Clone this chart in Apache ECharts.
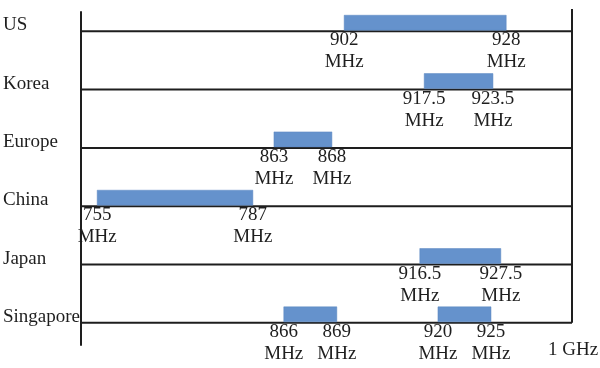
<!DOCTYPE html>
<html>
<head>
<meta charset="utf-8">
<script src="https://cdn.jsdelivr.net/npm/echarts@6/dist/echarts.min.js"></script>
<style>html,body{margin:0;padding:0;background:#fff}#c{width:600px;height:368px}</style>
</head>
<body>
<div id="c"></div>
<script>
// Regions (one row each, top to bottom)
const regions = ['US', 'Korea', 'Europe', 'China', 'Japan', 'Singapore'];
// Frequency bands: row index, start/end frequency (MHz) as labelled
const bandRegion   = [0, 1, 2, 3, 4, 5, 5];
const bandStartMHz = [902, 917.5, 863, 755, 916.5, 866, 920];
const bandEndMHz   = [928, 923.5, 868, 787, 927.5, 869, 925];
// The original diagram is not to scale: band extents read on a schematic 0-100 axis
const bandStartPos = [53.6, 69.9, 39.3, 3.3, 69.0, 41.3, 72.7];
const bandEndPos   = [86.6, 83.9, 51.1, 35.0, 85.5, 52.1, 83.5];
const unitLabel = 'MHz';
const axisEndLabel = '1 GHz';

const FONT = 'Liberation Serif';
const INK = '#1e1e1e';
const BAR = '#6592cc';

const chart = echarts.init(document.getElementById('c'), null, {renderer: 'canvas'});

function txt(x, y, s, align) {
  return {type: 'text', style: {x: x, y: y, text: s, fontFamily: FONT, fontSize: 19,
    fill: INK, align: align || 'center', verticalAlign: 'middle'}};
}

chart.setOption({
  animation: false,
  backgroundColor: '#fff',
  grid: {left: 81, right: 28, top: 12, bottom: 23},
  xAxis: {type: 'value', min: 0, max: 100, show: false},
  yAxis: {type: 'value', inverse: true, min: -0.33, max: 5.38,
    axisLine: {show: true, lineStyle: {color: INK, width: 2}},
    axisTick: {show: false}, axisLabel: {show: false}, splitLine: {show: false}},
  series: [
    {
      type: 'custom', name: 'rows', clip: false,
      data: regions.map((r, i) => [i]),
      renderItem: function (params, api) {
        const i = api.value(0);
        const a = api.coord([0, i]);
        const b = api.coord([100, i]);
        return {type: 'group', children: [
          {type: 'line', shape: {x1: a[0], y1: a[1], x2: b[0], y2: b[1]},
            style: {stroke: INK, lineWidth: 2}},
          txt(a[0] - 78, a[1] - 6, regions[i], 'left')
        ]};
      }
    },
    {
      type: 'custom', name: 'frame', clip: false,
      data: [[100]],
      renderItem: function (params, api) {
        const t = api.coord([100, -0.38]);
        const b = api.coord([100, regions.length - 1]);
        const g = api.coord([100, regions.length - 1 + 0.465]);
        return {type: 'group', children: [
          {type: 'line', shape: {x1: t[0], y1: t[1], x2: b[0], y2: b[1]},
            style: {stroke: INK, lineWidth: 2}},
          txt(t[0] - 24, g[1], axisEndLabel, 'left')
        ]};
      }
    },
    {
      type: 'custom', name: 'bands', clip: false,
      data: bandRegion.map((r, i) => [bandStartPos[i], bandEndPos[i], r, i]),
      renderItem: function (params, api) {
        const k = api.value(3);
        const s = api.coord([api.value(0), api.value(2)]);
        const e = api.coord([api.value(1), api.value(2)]);
        const h = 15;
        return {type: 'group', children: [
          {type: 'rect', shape: {x: s[0], y: s[1] - h - 1, width: e[0] - s[0], height: h},
            style: {fill: BAR, stroke: '#5b86c0', lineWidth: 0.5}},
          txt(s[0], s[1] + 9, String(bandStartMHz[k])),
          txt(s[0], s[1] + 31, unitLabel),
          txt(e[0], e[1] + 9, String(bandEndMHz[k])),
          txt(e[0], e[1] + 31, unitLabel)
        ]};
      }
    }
  ]
});
</script>
</body>
</html>
